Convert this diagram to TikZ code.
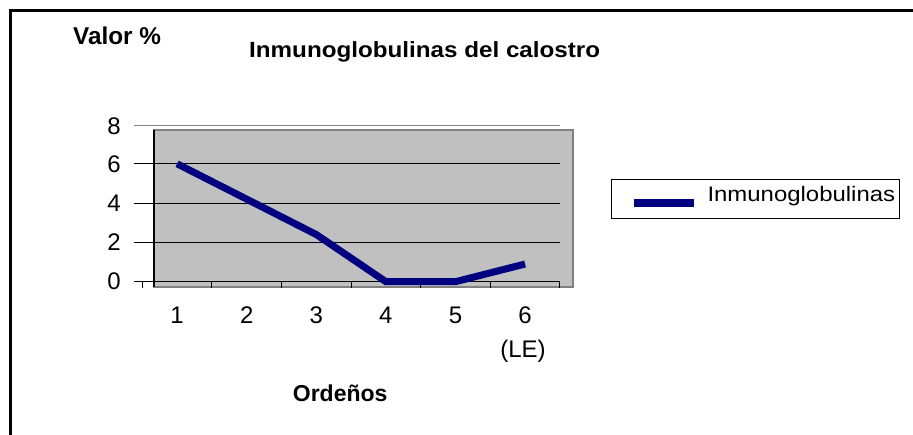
\documentclass[tikz,border=0pt]{standalone}
\usepackage{fontspec}
\setmainfont{Liberation Sans}
\definecolor{navyline}{RGB}{0,0,128}
\definecolor{wallgray}{RGB}{192,192,192}
\definecolor{edgegray}{RGB}{128,128,128}
\tikzset{
  numlabel/.style={inner sep=0pt, font=\fontsize{24}{28}\selectfont},
  boldlabel/.style={inner sep=0pt, anchor=base west, font=\bfseries\fontsize{24.3}{28}\selectfont},
  gridline/.style={black, line width=1.1pt},
  tickline/.style={black, line width=1pt},
  dataline/.style={navyline, line width=7pt},
}
\begin{document}
\begin{tikzpicture}[x=1pt,y=-1pt]
\useasboundingbox (0,0) rectangle (913,435);
% outer frame (right and bottom cut off)
\draw[line width=2.6pt] (10.3,440) -- (10.3,10.3) -- (920,10.3);

% texts
\node[boldlabel] (valor) at (73,45) {Valor \%};
\node[inner sep=0pt, anchor=base west] (title) at (249,57.3)
  {\scalebox{1.10}[1]{\bfseries\fontsize{22}{26}\selectfont Inmunoglobulinas del calostro}};
\node[boldlabel, font=\bfseries\fontsize{23}{28}\selectfont] (ordenos) at (292.7,401.7) {Ordeños};

% plot wall
\fill[wallgray] (154,130) rectangle (573,287);
\draw[edgegray, line width=2pt] (154,130) rectangle (573,287);
\draw[black, line width=1.6pt] (154,130) -- (154,287);
% gridlines
\draw[edgegray, line width=1.3pt] (134,125.7) -- (560,125.7);
\foreach \v in {2,4,6} {
  \draw[gridline] (134,{281.7-19.65*\v}) -- (560,{281.7-19.65*\v});
}
\draw[gridline] (134,281.7) -- (560,281.7);
% x ticks
\foreach \i in {0,...,6} {
  \draw[tickline] ({142.3+69.6*\i},281.7) -- ({142.3+69.6*\i},288.5);
}
% y labels
\node[numlabel, anchor=east] (y8) at (121,126) {8};
\node[numlabel, anchor=east] (y6) at (121,{281.7-19.65*6}) {6};
\node[numlabel, anchor=east] (y4) at (121,{281.7-19.65*4}) {4};
\node[numlabel, anchor=east] (y2) at (121,{281.7-19.65*2}) {2};
\node[numlabel, anchor=east] (y0) at (121,281.7) {0};
% x labels
\foreach \i in {1,...,6} {
  \node[numlabel] (x\i) at ({177.1+69.6*(\i-1)},315) {\i};
}
\node[numlabel, anchor=base] (le) at (523,357.3) {(LE)};

% data
\coordinate (p1) at (177.1,{281.7-19.65*6});
\coordinate (p2) at (246.7,{281.7-19.65*4.2});
\coordinate (p3) at (316.3,{281.7-19.65*2.4});
\coordinate (p4) at (385.9,281.7);
\coordinate (p5) at (455.5,281.7);
\coordinate (p6) at (525.1,{281.7-19.65*0.9});
\draw[dataline] (p1) -- (p2) -- (p3) -- (p4) -- (p5) -- (p6);

% legend
\node[draw=black, line width=1pt, fill=white, minimum width=288pt, minimum height=39pt, inner sep=0pt, anchor=north west] (legend) at (611,179) {};
\coordinate (la) at (634,203);
\coordinate (lb) at (694,203);
\draw[navyline, line width=7.5pt] (la) -- (lb);
\node[inner sep=0pt, anchor=base west] (legtext) at (707.3,201.7)
  {\scalebox{1.14}[1]{\fontsize{21}{25}\selectfont Inmunoglobulinas}};
\end{tikzpicture}
\end{document}
